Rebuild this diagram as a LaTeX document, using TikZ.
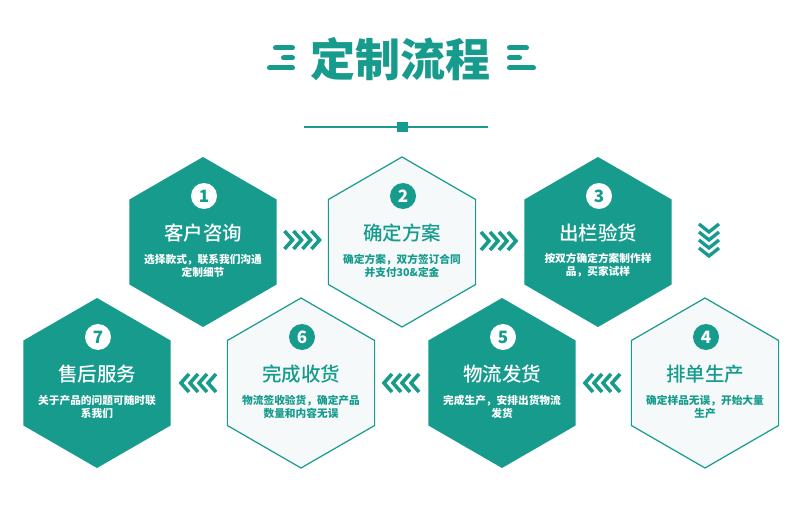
\documentclass[tikz,border=0pt]{standalone}
\usepackage{fontspec}
\newfontfamily\cjk{Noto Sans CJK SC}
\newfontfamily\cjkmed{Noto Sans CJK SC Medium}
\usetikzlibrary{shapes.geometric}
\definecolor{tealmain}{RGB}{22,155,141}
\definecolor{hexlight}{RGB}{245,249,250}
\tikzset{
  hexbase/.style={regular polygon, regular polygon sides=6, shape border rotate=30,
    minimum size=170pt, inner sep=0pt, outer sep=0pt},
  hexdark/.style={hexbase, fill=tealmain, draw=none},
  hexlite/.style={hexbase, fill=hexlight, draw=tealmain, line width=1.2pt},
  circbase/.style={circle, minimum size=26pt, inner sep=0pt,
    font=\cjk\bfseries\fontsize{17}{17}\selectfont},
  circdark/.style={circbase, fill=white, text=tealmain},
  circlite/.style={circbase, fill=tealmain, text=white},
  titletext/.style={inner sep=0pt, font=\cjkmed\fontsize{19.5}{20}\selectfont},
  desctext/.style={inner sep=0pt, align=center, font=\cjk\bfseries\fontsize{10.7}{13}\selectfont},
  chev/.style={draw=tealmain, line width=3.6pt},
  chevd/.style={draw=tealmain, line width=3.3pt},
  bar/.style={draw=tealmain, line width=5pt, line cap=round},
  sqmark/.style={fill=tealmain, minimum width=11pt, minimum height=10pt, inner sep=0pt},
  bigtitle/.style={inner sep=0pt, text=tealmain, font=\cjk\bfseries\fontsize{45}{45}\selectfont}
}
\newcommand\mkhex[8]{%
  \node[#4] (h#1) at (#2,#3) {};
  \node[#6] (n#1) at (#2+1,#3-46) {#1};
  \node[titletext, text=#5] (t#1) at (#2,#3-9) {#7};
  \node[desctext, text=#5] (d#1) at (#2,#3+23.5) {#8};
}
\newcommand\chevR[2]{\foreach \k in {0,1,2,3}{\draw[chev] ({#1-17.5+9*\k},#2-9) -- ++(8,9) -- ++(-8,9);}}
\newcommand\chevL[2]{\foreach \k in {0,1,2,3}{\draw[chev] ({#1+17.5-9*\k},#2-9) -- ++(-8,9) -- ++(8,9);}}
\begin{document}
\begin{tikzpicture}[x=1pt, y=-1pt]
\useasboundingbox[fill=white] (0,0) rectangle (800,505);
% title
\node[bigtitle] (title) at (400,59) {定制流程};
\draw[bar] (275.5,48) -- (292.5,48);
\draw[bar] (283.5,58) -- (292.5,58);
\draw[bar] (269.5,68) -- (292.5,68);
\draw[bar] (509.5,48) -- (526.5,48);
\draw[bar] (509.5,58) -- (519.5,58);
\draw[bar] (509.5,68) -- (533.5,68);
\coordinate (ruleL) at (304,127);
\coordinate (ruleR) at (488,127);
\draw[tealmain, line width=1.5pt] (ruleL) -- (ruleR);
\node[sqmark] (sq) at (402.5,127) {};
% hexagons
\mkhex{1}{203}{242}{hexdark}{white}{circdark}{客户咨询}{选择款式，联系我们沟通\\定制细节}
\mkhex{2}{402}{242}{hexlite}{tealmain}{circlite}{确定方案}{确定方案，双方签订合同\\并支付30\&定金}
\mkhex{3}{598}{242}{hexdark}{white}{circdark}{出栏验货}{按双方确定方案制作样\\品，买家试样}
\mkhex{4}{705}{383}{hexlite}{tealmain}{circlite}{排单生产}{确定样品无误，开始大量\\生产}
\mkhex{5}{502}{383}{hexdark}{white}{circdark}{物流发货}{完成生产，安排出货物流\\发货}
\mkhex{6}{301}{383}{hexlite}{tealmain}{circlite}{完成收货}{物流签收验货，确定产品\\数量和内容无误}
\mkhex{7}{97}{383}{hexdark}{white}{circdark}{售后服务}{关于产品的问题可随时联\\系我们}
% chevrons
\chevR{302}{240}
\chevR{498.5}{241}
\foreach \k in {0,1,2,3}{\draw[chevd] (699,{224+8*\k}) -- ++(10,8) -- ++(10,-8);}
\chevL{602.5}{383}
\chevL{401.5}{383}
\chevL{198.5}{383}
\end{tikzpicture}
\end{document}
